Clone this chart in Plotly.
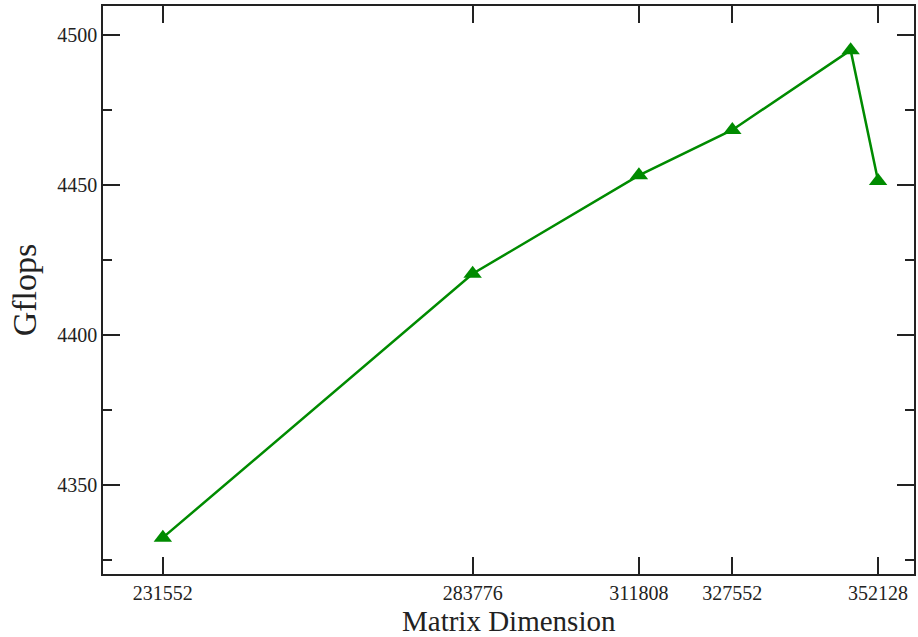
import plotly.graph_objects as go

dims = [231552, 283776, 311808, 327552, 347500, 352128]
gflops = [4332.6, 4420.5, 4453.3, 4468.4, 4495.0, 4451.4]
xticks = [231552, 283776, 311808, 327552, 352128]
yticks = [4350, 4400, 4450, 4500]

green = "#008B00"
font_fam = "Liberation Serif, Times New Roman, serif"

fig = go.Figure()
fig.add_trace(go.Scatter(
    x=dims, y=gflops, mode="lines+markers",
    line=dict(color=green, width=2.5),
    marker=dict(symbol="triangle-up", size=16, color=green),
    showlegend=False,
))

axis_common = dict(
    showgrid=False, zeroline=False, showline=True, linecolor="#222", linewidth=1.5,
    mirror="allticks", ticks="inside", tickcolor="#222", tickwidth=1.5,
    tickfont=dict(family=font_fam, size=20, color="#222"),
)

fig.update_layout(
    width=918, height=637,
    margin=dict(l=103, r=2, t=6, b=63),
    paper_bgcolor="white", plot_bgcolor="white",
    xaxis=dict(
        range=[221462, 358182], tickvals=xticks, ticktext=[str(v) for v in xticks],
        ticklen=17,
        **axis_common,
    ),
    yaxis=dict(
        range=[4320.5, 4509.7], tickvals=yticks, ticklen=17,
        minor=dict(tickvals=[4325, 4375, 4425, 4475], ticks="inside", ticklen=9, tickcolor="#222", tickwidth=1.5),
        title=dict(text="Gflops", font=dict(family=font_fam, size=34, color="#222"), standoff=10),
        **axis_common,
    ),
    annotations=[dict(
        text="Matrix Dimension", xref="paper", yref="paper", x=0.5, y=0,
        xanchor="center", yanchor="bottom", yshift=-64, showarrow=False,
        font=dict(family=font_fam, size=29, color="#222"), borderpad=0,
    )],
)

fig.write_html("out.html")
